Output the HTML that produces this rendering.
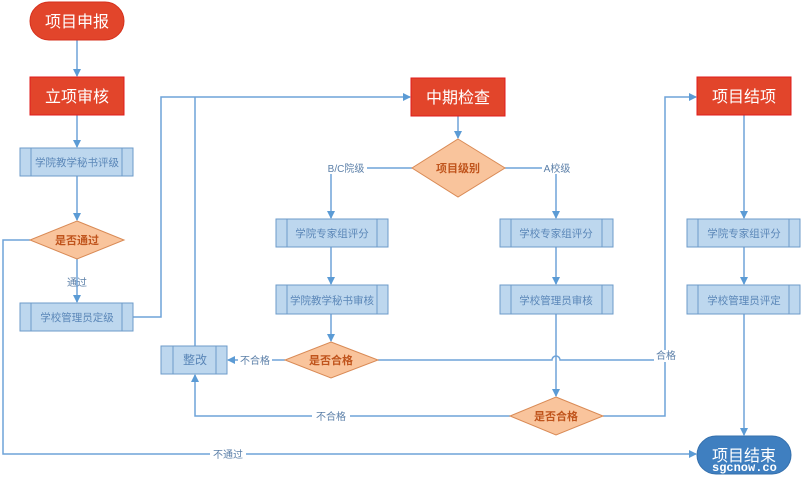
<!DOCTYPE html>
<html><head><meta charset="utf-8"><style>
html,body{margin:0;padding:0;background:#fff;}
svg{display:block;font-family:"Liberation Sans","Noto Sans CJK SC",sans-serif;}
</style></head><body>
<svg width="802" height="481" viewBox="0 0 802 481" xmlns="http://www.w3.org/2000/svg">
<defs>
<marker id="a" markerWidth="8" markerHeight="8" refX="7" refY="4" orient="auto" markerUnits="userSpaceOnUse"><path d="M0,0 L8,4 L0,8 z" fill="#5b9bd5"/></marker>
</defs>
<g stroke="#6fa3d8" stroke-width="1.5" fill="none">
<line x1="77" y1="40" x2="77" y2="76" marker-end="url(#a)"/>
<line x1="77" y1="115" x2="77" y2="147" marker-end="url(#a)"/>
<line x1="77" y1="176" x2="77" y2="220" marker-end="url(#a)"/>
<line x1="77" y1="259" x2="77" y2="302" marker-end="url(#a)"/>
<polyline points="133,317 161,317 161,97 410,97" marker-end="url(#a)"/>
<line x1="195" y1="346" x2="195" y2="97"/>
<line x1="458" y1="116" x2="458" y2="138" marker-end="url(#a)"/>
<polyline points="412,168 367,168"/>
<polyline points="331,174 331,218" marker-end="url(#a)"/>
<polyline points="505,168 542,168"/>
<polyline points="556,174 556,218" marker-end="url(#a)"/>
<line x1="331" y1="247" x2="331" y2="284" marker-end="url(#a)"/>
<line x1="556" y1="247" x2="556" y2="284" marker-end="url(#a)"/>
<line x1="331" y1="314" x2="331" y2="341" marker-end="url(#a)"/>
<line x1="556" y1="314" x2="556" y2="396" marker-end="url(#a)"/>
<line x1="285" y1="360" x2="272" y2="360"/>
<line x1="238" y1="360" x2="228" y2="360" marker-end="url(#a)"/>
<path d="M378,360 L552,360 A4,4 0 0 1 560,360 L654,360"/>
<polyline points="603,416 665,416 665,362"/>
<polyline points="665,350 665,97 696,97" marker-end="url(#a)"/>
<polyline points="510,416 350,416"/>
<polyline points="312,416 195,416 195,375" marker-end="url(#a)"/>
<line x1="744" y1="115" x2="744" y2="218" marker-end="url(#a)"/>
<line x1="744" y1="247" x2="744" y2="284" marker-end="url(#a)"/>
<line x1="744" y1="314" x2="744" y2="435" marker-end="url(#a)"/>
<polyline points="30,240 3,240 3,454 210,454"/>
<polyline points="246,454 696,454" marker-end="url(#a)"/>
</g>
<rect x="30" y="2" width="94" height="38" rx="19" fill="#e2452b" stroke="#d6301c"/>
<text x="77" y="27" font-size="16" fill="#fff" text-anchor="middle">项目申报</text>
<rect x="30" y="77" width="94" height="38" fill="#e2452b" stroke="#e01b1b"/>
<text x="77" y="102" font-size="16" fill="#fff" text-anchor="middle">立项审核</text>
<rect x="411" y="78" width="94" height="38" fill="#e2452b" stroke="#e01b1b"/>
<text x="458" y="103" font-size="16" fill="#fff" text-anchor="middle">中期检查</text>
<rect x="697" y="77" width="94" height="38" fill="#e2452b" stroke="#e01b1b"/>
<text x="744" y="102" font-size="16" fill="#fff" text-anchor="middle">项目结项</text>
<rect x="697" y="436" width="94" height="38" rx="19" fill="#3f7fc0" stroke="#3570ad"/>
<text x="744" y="461" font-size="16" fill="#fff" text-anchor="middle">项目结束</text>
<text x="712" y="471" font-size="12" font-weight="bold" fill="#fff" font-family="Liberation Mono,monospace">sgcnow.co</text>
<g fill="#bdd7ee" stroke="#6d9bc9" stroke-width="1">
<rect x="20" y="148" width="113" height="28"/><line x1="31" y1="148" x2="31" y2="176"/><line x1="122" y1="148" x2="122" y2="176"/>
<rect x="20" y="303" width="113" height="28"/><line x1="31" y1="303" x2="31" y2="331"/><line x1="122" y1="303" x2="122" y2="331"/>
<rect x="276" y="219" width="112" height="28"/><line x1="287" y1="219" x2="287" y2="247"/><line x1="377" y1="219" x2="377" y2="247"/>
<rect x="276" y="285" width="112" height="29"/><line x1="287" y1="285" x2="287" y2="314"/><line x1="377" y1="285" x2="377" y2="314"/>
<rect x="500" y="219" width="113" height="28"/><line x1="511" y1="219" x2="511" y2="247"/><line x1="602" y1="219" x2="602" y2="247"/>
<rect x="500" y="285" width="113" height="29"/><line x1="511" y1="285" x2="511" y2="314"/><line x1="602" y1="285" x2="602" y2="314"/>
<rect x="687" y="219" width="113" height="28"/><line x1="698" y1="219" x2="698" y2="247"/><line x1="789" y1="219" x2="789" y2="247"/>
<rect x="687" y="285" width="113" height="29"/><line x1="698" y1="285" x2="698" y2="314"/><line x1="789" y1="285" x2="789" y2="314"/>
<rect x="161" y="346" width="66" height="28"/><line x1="173" y1="346" x2="173" y2="374"/><line x1="216" y1="346" x2="216" y2="374"/>
</g>
<g font-size="10.5" fill="#5b87b8" text-anchor="middle">
<text x="77" y="166">学院教学秘书评级</text>
<text x="77" y="321">学校管理员定级</text>
<text x="332" y="237">学院专家组评分</text>
<text x="332" y="304">学院教学秘书审核</text>
<text x="556" y="237">学校专家组评分</text>
<text x="556" y="304">学校管理员审核</text>
<text x="744" y="237">学院专家组评分</text>
<text x="744" y="304">学校管理员评定</text>
<text x="195" y="364" font-size="12">整改</text>
</g>
<g fill="#f9c49c" stroke="#d98a55" stroke-width="1">
<polygon points="77,221 124,240 77,259 30,240"/>
<polygon points="458,139 505,168 458,197 412,168"/>
<polygon points="331,342 378,360 331,378 285,360"/>
<polygon points="556,397 603,416 556,435 510,416"/>
</g>
<g font-size="11" font-weight="bold" fill="#c0541c" text-anchor="middle">
<text x="77" y="244">是否通过</text>
<text x="458" y="172">项目级别</text>
<text x="331" y="364">是否合格</text>
<text x="556" y="420">是否合格</text>
</g>
<g font-size="10" fill="#5b7fa8" text-anchor="middle">
<text x="77" y="286">通过</text>
<text x="346" y="172">B/C院级</text>
<text x="557" y="172">A校级</text>
<text x="255" y="364">不合格</text>
<text x="331" y="420">不合格</text>
<text x="666" y="359">合格</text>
<text x="228" y="458">不通过</text>
</g>
</svg>
</body></html>
